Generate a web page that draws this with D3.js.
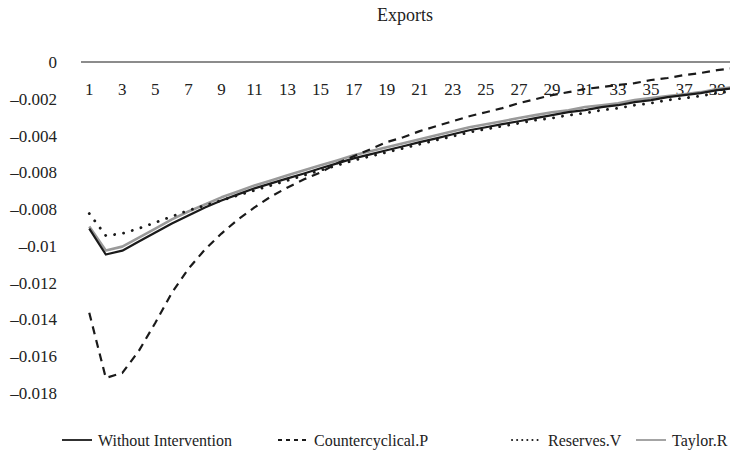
<!DOCTYPE html>
<html>
<head>
<meta charset="utf-8">
<script src="https://cdn.jsdelivr.net/npm/d3@7"></script>
<style>
  html, body { margin: 0; padding: 0; background: #fff; }
  svg { display: block; }
  text { font-family: "Liberation Serif", "DejaVu Serif", serif; fill: #222; }
</style>
</head>
<body>
<svg id="chart" width="730" height="461"></svg>
<script>
// ---- data ----
const title = "Exports";
const categories = d3.range(1, 41);
const xTickLabels = [1,3,5,7,9,11,13,15,17,19,21,23,25,27,29,31,33,35,37,39];
const yTickValues = [0, -0.002, -0.004, -0.006, -0.008, -0.01, -0.012, -0.014, -0.016, -0.018];
const yTickLabels = ["0", "–0.002", "–0.004", "–0.008", "–0.008", "–0.01", "–0.012", "–0.014", "–0.016", "–0.018"];

const withoutIntervention = [-0.00906,-0.01047,-0.01026,-0.00976,-0.00927,-0.00878,-0.00835,-0.00791,-0.00753,-0.0072,
  -0.00687,-0.0066,-0.00633,-0.00606,-0.00578,-0.00551,-0.00524,-0.00502,-0.0048,-0.00458,
  -0.00436,-0.00415,-0.00393,-0.00371,-0.00355,-0.00338,-0.00322,-0.00305,-0.00289,-0.00273,
  -0.00262,-0.00245,-0.00235,-0.00218,-0.00207,-0.00191,-0.0018,-0.00169,-0.00153,-0.00142];
const countercyclicalP = [-0.01364,-0.01718,-0.01691,-0.01571,-0.01418,-0.01255,-0.01124,-0.0102,-0.00933,-0.00856,
  -0.00791,-0.00731,-0.00682,-0.00638,-0.006,-0.00551,-0.00513,-0.00475,-0.00436,-0.00409,
  -0.00376,-0.00349,-0.00322,-0.00295,-0.00273,-0.00251,-0.00224,-0.00202,-0.0018,-0.00164,
  -0.00147,-0.00136,-0.00125,-0.00115,-0.00098,-0.00087,-0.00071,-0.0006,-0.00044,-0.00033];
const reservesV = [-0.00824,-0.00944,-0.00933,-0.00905,-0.00873,-0.0084,-0.00807,-0.0078,-0.00753,-0.00725,
  -0.00698,-0.00671,-0.00644,-0.00616,-0.00589,-0.00562,-0.00535,-0.00513,-0.00491,-0.00469,
  -0.00447,-0.00425,-0.00404,-0.00382,-0.00365,-0.00349,-0.00333,-0.00316,-0.00305,-0.00289,
  -0.00278,-0.00262,-0.00251,-0.00235,-0.00224,-0.00207,-0.00196,-0.00185,-0.00169,-0.00158];
const taylorR = [-0.00895,-0.01025,-0.01004,-0.00955,-0.00906,-0.00856,-0.00813,-0.00775,-0.00736,-0.00704,
  -0.00671,-0.00644,-0.00616,-0.00589,-0.00562,-0.00535,-0.00507,-0.00485,-0.00464,-0.00442,
  -0.0042,-0.00398,-0.00376,-0.00355,-0.00338,-0.00322,-0.00305,-0.00289,-0.00273,-0.00262,
  -0.00245,-0.00235,-0.00224,-0.00207,-0.00196,-0.00185,-0.00175,-0.00164,-0.00147,-0.00136];

const seriesNames = ["Without Intervention", "Countercyclical.P", "Reserves.V", "Taylor.R"];

// ---- layout / style ----
const svg = d3.select("#chart");
const x = d3.scaleBand().domain(categories).range([81, 742]);
const y = d3.scaleLinear().domain([0, -0.018]).range([62, 393]);
const cx = d => x(d) + x.bandwidth() / 2;

const styles = [
  { name: seriesNames[0], data: withoutIntervention, stroke: "#1a1a1a", width: 2.2, dash: null, cap: "butt" },
  { name: seriesNames[1], data: countercyclicalP, stroke: "#1a1a1a", width: 2.2, dash: "8,6", cap: "butt" },
  { name: seriesNames[2], data: reservesV, stroke: "#1a1a1a", width: 2.8, dash: "0.1,9", cap: "round" },
  { name: seriesNames[3], data: taylorR, stroke: "#9a9a9a", width: 2.6, dash: null, cap: "butt" }
];
const drawOrder = [3, 0, 2, 1];

// title
svg.append("text").attr("x", 405).attr("y", 21).attr("text-anchor", "middle")
  .style("font-size", "18px").text(title);

// y labels
svg.append("g").selectAll("text").data(yTickValues).join("text")
  .attr("x", 57).attr("y", d => y(d)).attr("dy", "0.35em")
  .attr("text-anchor", "end").style("font-size", "17px")
  .text((d, i) => yTickLabels[i]);

// x axis line
svg.append("line").attr("x1", x.range()[0]).attr("x2", x.range()[1])
  .attr("y1", y(0)).attr("y2", y(0)).attr("stroke", "#666").attr("stroke-width", 1.5);

// x labels
svg.append("g").selectAll("text").data(xTickLabels).join("text")
  .attr("x", d => cx(d)).attr("y", y(0) + 27).attr("dy", "0.35em")
  .attr("text-anchor", "middle").style("font-size", "17px").text(d => d);

// lines
const line = d3.line().x((d, i) => cx(categories[i])).y(d => y(d));
drawOrder.forEach(k => {
  const s = styles[k];
  svg.append("path").datum(s.data).attr("d", line)
    .attr("fill", "none").attr("stroke", s.stroke).attr("stroke-width", s.width)
    .attr("stroke-dasharray", s.dash).attr("stroke-linecap", s.cap)
    .attr("stroke-linejoin", "round");
});

// legend
const legendY = 440;
const legendX = [62, 278, 512, 636];
const legend = svg.append("g");
styles.forEach((s, i) => {
  const g = legend.append("g").attr("transform", `translate(${legendX[i]},${legendY})`);
  g.append("line").attr("x1", 0).attr("x2", 30).attr("y1", 0).attr("y2", 0)
    .attr("stroke", s.stroke).attr("stroke-width", s.dash && s.cap === "round" ? 2 : 1.8)
    .attr("stroke-dasharray", s.dash ? (s.cap === "round" ? "0.1,5" : "4,4") : null)
    .attr("stroke-linecap", s.cap);
  g.append("text").attr("x", 36).attr("y", 0).attr("dy", "0.35em")
    .style("font-size", "16px").text(s.name);
});
</script>
</body>
</html>
